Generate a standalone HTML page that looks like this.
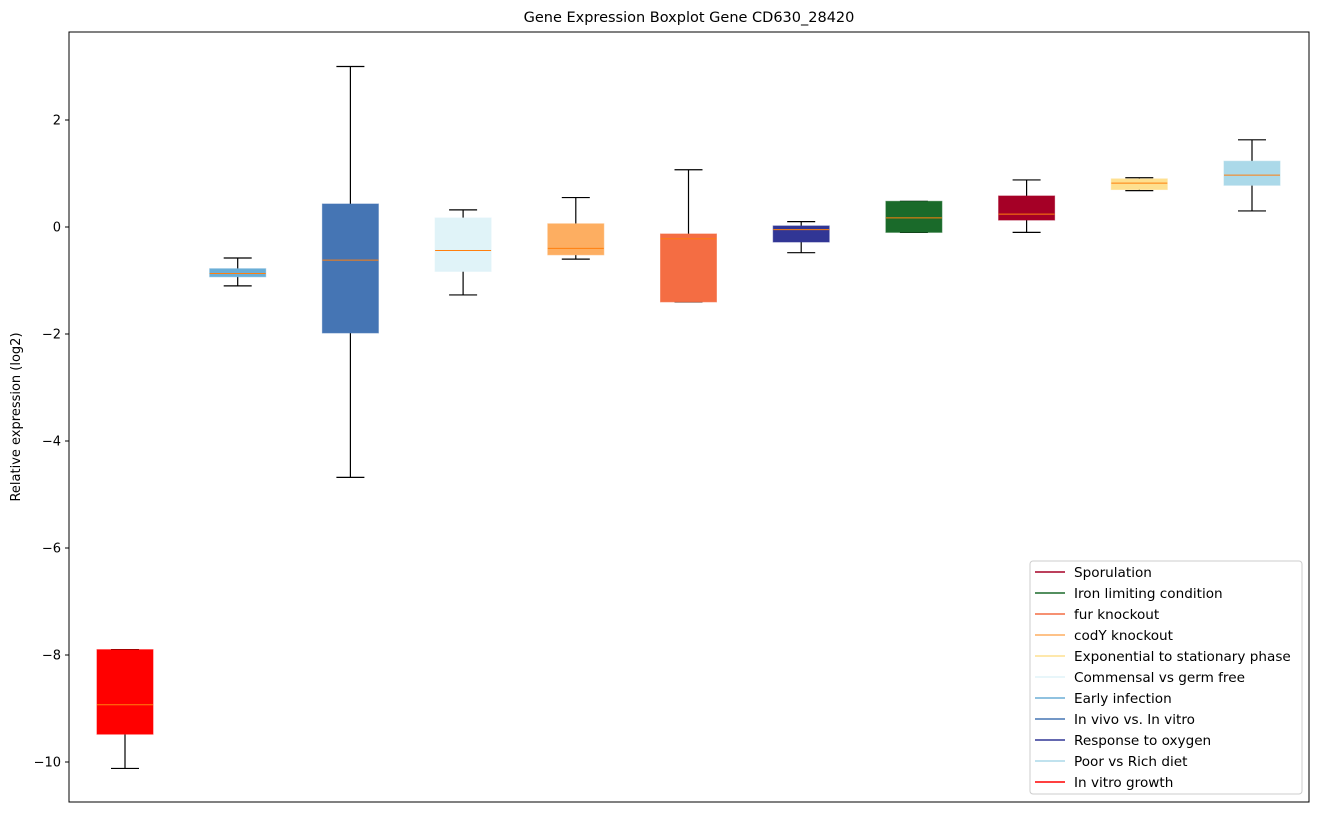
<!DOCTYPE html>
<html><head><meta charset="utf-8"><style>
body{margin:0;background:#fff;font-family:"DejaVu Sans","Liberation Sans",sans-serif;}
svg text{font-family:"DejaVu Sans","Liberation Sans",sans-serif;}
</style></head><body>
<svg id="chart" width="1318" height="812" xmlns="http://www.w3.org/2000/svg">
<rect width="1318" height="812" fill="#fff"/>
<text x="689" y="22" font-size="14.5" text-anchor="middle">Gene Expression Boxplot Gene CD630_28420</text>
<text transform="translate(20,417) rotate(-90)" font-size="13" text-anchor="middle">Relative expression (log2)</text>
<g id="ticks"></g>
<g id="boxes"></g>
<rect x="69" y="32" width="1240" height="770" fill="none" stroke="#000" stroke-width="1"/>
<g id="legend"></g>
</svg>
<script>
const categories=["In vitro growth","Early infection","In vivo vs. In vitro","Commensal vs germ free","codY knockout","fur knockout","Response to oxygen","Iron limiting condition","Sporulation","Exponential to stationary phase","Poor vs Rich diet"];
const colors=["#ff0000","#6baed6","#4575b4","#e0f3f8","#fdae61","#f46d43","#313695","#1a6a2a","#a50026","#fee090","#abd9e9"];
const whiskerLow=[-10.12,-1.1,-4.68,-1.27,-0.6,-1.4,-0.48,-0.1,-0.1,0.68,0.3];
const q1=[-9.48,-0.93,-1.98,-0.83,-0.52,-1.4,-0.28,-0.1,0.13,0.7,0.78];
const medians=[-8.93,-0.87,-0.62,-0.44,-0.4,-0.22,-0.05,0.17,0.24,0.82,0.97];
const q3=[-7.9,-0.78,0.43,0.17,0.06,-0.13,0.02,0.48,0.58,0.9,1.23];
const whiskerHigh=[-7.9,-0.58,3.0,0.32,0.55,1.07,0.1,0.48,0.88,0.92,1.63];
const yTicks=[2,0,-2,-4,-6,-8,-10];
const yTickLabels=["2","0","\u22122","\u22124","\u22126","\u22128","\u221210"];
const legendOrder=[8,7,5,4,9,3,1,2,6,10,0];
const NS="http://www.w3.org/2000/svg";
const y=v=>227-v*53.5;
const x=i=>125+i*112.7;
function mk(tag,attrs,parent){const e=document.createElementNS(NS,tag);for(const k in attrs)e.setAttribute(k,attrs[k]);parent.appendChild(e);return e;}
const tg=document.getElementById('ticks');
yTicks.forEach((t,i)=>{
  const l=mk('line',{x1:65,x2:69,y1:y(t),y2:y(t),stroke:'#000'},tg);
  
  
  const tx=mk('text',{x:61,y:y(t)+4.5,'font-size':13,'text-anchor':'end'},tg);
  tx.textContent=yTickLabels[i];
  
  
});
const bg=document.getElementById('boxes');
categories.forEach((c,i)=>{
  const g=mk('g',{},bg);
  
  
  const cx=x(i);
  mk('line',{x1:cx,x2:cx,y1:y(whiskerLow[i]),y2:y(q1[i]),stroke:'#000','stroke-width':1.2},g);
  mk('line',{x1:cx,x2:cx,y1:y(q3[i]),y2:y(whiskerHigh[i]),stroke:'#000','stroke-width':1.2},g);
  mk('line',{x1:cx-14,x2:cx+14,y1:y(whiskerLow[i]),y2:y(whiskerLow[i]),stroke:'#000','stroke-width':1.2},g);
  mk('line',{x1:cx-14,x2:cx+14,y1:y(whiskerHigh[i]),y2:y(whiskerHigh[i]),stroke:'#000','stroke-width':1.2},g);
  mk('rect',{x:cx-28,y:y(q3[i]),width:56,height:Math.max(1,y(q1[i])-y(q3[i])),fill:colors[i],stroke:colors[i],'stroke-opacity':0.6},g);
  mk('line',{x1:cx-28,x2:cx+28,y1:y(medians[i]),y2:y(medians[i]),stroke:'#ff7f0e','stroke-width':1},g);
});
const lg=document.getElementById('legend');
const lb=mk('rect',{x:1030,y:561,width:272,height:233,fill:'#fff','fill-opacity':0.8,stroke:'#ccc',rx:3},lg);


legendOrder.forEach((ci,k)=>{
  const g=mk('g',{},lg);
  
  
  const ly=572+k*21;
  mk('line',{x1:1035,x2:1065,y1:ly,y2:ly,stroke:colors[ci],'stroke-width':1.5},g);
  const t=mk('text',{x:1074,y:ly+5,'font-size':13.6},g);
  t.textContent=categories[ci];
});
</script>
</body></html>
